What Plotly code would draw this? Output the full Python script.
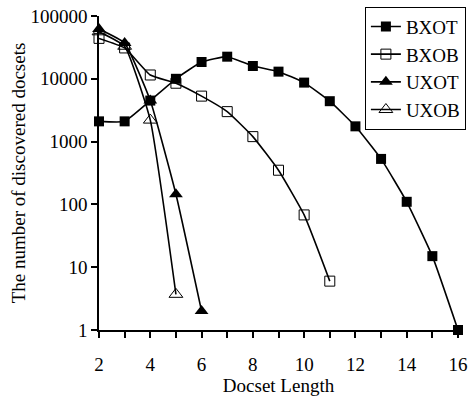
import plotly.graph_objects as go

docset_length = [2, 3, 4, 5, 6, 7, 8, 9, 10, 11, 12, 13, 14, 15, 16]
bxot = [2100, 2100, 4500, 10000, 18500, 22500, 16000, 13000, 8700, 4400, 1750, 530, 110, 15, 1]
bxob_x = [2, 3, 4, 5, 6, 7, 8, 9, 10, 11]
bxob = [44000, 31000, 11500, 8500, 5300, 3000, 1200, 350, 68, 6]
uxot_x = [2, 3, 4, 5, 6]
uxot = [62000, 37000, 4500, 145, 2]
uxob_x = [2, 3, 4, 5]
uxob = [56000, 33000, 2200, 3.7]

y_tickvals = [1, 10, 100, 1000, 10000, 100000]
y_ticktext = ["1", "10", "100", "1000", "10000", "100000"]
x_tickvals = [2, 4, 6, 8, 10, 12, 14, 16]

FAM = "Liberation Serif, Times New Roman, serif"
font = dict(family=FAM, size=19, color="black")
line = dict(color="black", width=1.6, shape="spline", smoothing=0.4)

fig = go.Figure()
fig.add_trace(go.Scatter(x=docset_length, y=bxot, name="BXOT", mode="lines+markers", cliponaxis=False,
                         legendgroup="a",
                         line=line, marker=dict(symbol="square", size=10, color="black")))
fig.add_trace(go.Scatter(x=bxob_x, y=bxob, name="BXOB", mode="lines+markers", cliponaxis=False,
                         legendgroup="b",
                         line=line, marker=dict(symbol="square-open", size=10, color="black",
                                                line=dict(width=1))))
fig.add_trace(go.Scatter(x=uxot_x, y=uxot, name="UXOT", mode="lines+markers", cliponaxis=False,
                         legendgroup="c",
                         line=line, marker=dict(symbol="triangle-up", size=12, color="black")))
fig.add_trace(go.Scatter(x=uxob_x, y=uxob, name="UXOB", mode="lines+markers", cliponaxis=False,
                         legendgroup="d",
                         line=line, marker=dict(symbol="triangle-up-open", size=12, color="black",
                                                line=dict(width=1))))

fig.update_layout(
    width=470, height=396,
    margin=dict(l=99, r=12, t=16, b=66, autoexpand=False),
    paper_bgcolor="white", plot_bgcolor="white",
    font=font,
    showlegend=True,
    legend=dict(x=1.022, y=1.03, xanchor="right", yanchor="top",
                bordercolor="black", borderwidth=1, bgcolor="white",
                font=dict(family=FAM, size=19, color="black"),
                tracegroupgap=0, itemwidth=30),
)
fig.update_xaxes(
    range=[2, 16], tickvals=x_tickvals, showgrid=False, zeroline=False, automargin=False,
    showline=True, linecolor="black", linewidth=1.5,
    ticks="outside", ticklen=6, tickwidth=1.5, tickcolor="black",
    minor=dict(dtick=1, ticks="outside", ticklen=6, tickwidth=1.5, tickcolor="black", showgrid=False),
    ticklabelstandoff=10,
    title=dict(text="Docset Length", standoff=6, font=font),
)
fig.update_yaxes(
    type="log", range=[0, 5], tickvals=y_tickvals, ticktext=y_ticktext,
    showgrid=False, zeroline=False, automargin=False,
    showline=True, linecolor="black", linewidth=1.5,
    ticks="outside", ticklen=6, tickwidth=1.5, tickcolor="black",
    ticklabelstandoff=0,
    title=dict(text="The number of discovered docsets", standoff=0, font=font),
)

fig.write_html("out.html", config={"displayModeBar": False},
               post_script="document.body.style.margin='0';document.body.style.overflow='hidden';")
